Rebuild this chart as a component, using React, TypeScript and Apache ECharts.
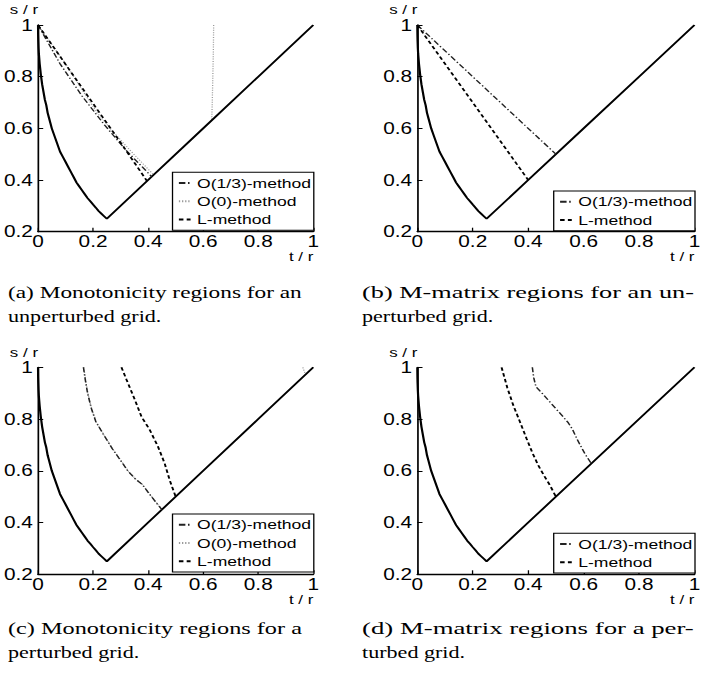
import React, { useEffect, useRef } from "react";
import * as echarts from "echarts";

// ---------- data ----------
const xTickValues = [0, 0.2, 0.4, 0.6, 0.8, 1];
const yTickValues = [0.2, 0.4, 0.6, 0.8, 1];
const methodNames = ["O(1/3)-method", "O(0)-method", "L-method"];
const axisNames = { x: "t / r", y: "s / r" };

// admissible-region boundary (same in all panels)
const boundaryCurve = [
  [0, 1], [0.0005, 0.96], [0.001, 0.94], [0.002, 0.91], [0.003, 0.89], [0.0045, 0.87],
  [0.006, 0.85], [0.008, 0.83], [0.01, 0.81], [0.015, 0.77], [0.02, 0.74], [0.025, 0.71],
  [0.03, 0.69], [0.035, 0.66], [0.04, 0.64], [0.045, 0.62], [0.05, 0.6], [0.06, 0.57],
  [0.07, 0.54], [0.08, 0.51], [0.09, 0.49], [0.1, 0.47], [0.11, 0.45], [0.12, 0.43],
  [0.13, 0.41], [0.14, 0.39], [0.15, 0.375], [0.16, 0.36], [0.17, 0.345], [0.18, 0.33],
  [0.19, 0.318], [0.2, 0.305], [0.21, 0.293], [0.22, 0.28], [0.23, 0.27], [0.24, 0.26],
  [0.25, 0.25], [0.4, 0.4], [0.6, 0.6], [0.8, 0.8], [1, 1],
];

// (a) monotonicity, unperturbed grid
const aO13 = [[0, 1], [0.04, 0.925], [0.08, 0.85], [0.16, 0.725], [0.24, 0.615], [0.32, 0.515], [0.413, 0.413]];
const aO0 = [[0, 1], [0.05, 0.925], [0.1, 0.85], [0.16, 0.75], [0.215, 0.66], [0.27, 0.59], [0.33, 0.52], [0.42, 0.42]];
const aO0Upper = [[0.638, 1], [0.637, 0.9], [0.635, 0.8], [0.633, 0.7], [0.631, 0.631]];
const aL = [[0, 1], [0.1, 0.848], [0.2, 0.696], [0.3, 0.545], [0.396, 0.396]];

// (b) M-matrix, unperturbed grid
const bO13 = [[0, 1], [0.5, 0.5]];
const bL = [[0, 1], [0.4, 0.4]];

// (c) monotonicity, perturbed grid
const cO13 = [[0.165, 1], [0.172, 0.95], [0.18, 0.9], [0.194, 0.84], [0.21, 0.79], [0.235, 0.745], [0.27, 0.685], [0.3, 0.64], [0.328, 0.597], [0.355, 0.567], [0.378, 0.548], [0.405, 0.51], [0.43, 0.476], [0.45, 0.45]];
const cO0 = [[0.166, 1], [0.173, 0.95], [0.181, 0.9], [0.195, 0.84], [0.211, 0.79], [0.236, 0.745], [0.271, 0.685], [0.301, 0.64], [0.329, 0.597], [0.356, 0.567], [0.379, 0.548], [0.406, 0.51], [0.431, 0.476], [0.451, 0.451]];
const cO0Corner = [[0.962, 1], [0.967, 0.985], [0.972, 0.972]];
const cL = [[0.303, 1], [0.322, 0.951], [0.352, 0.874], [0.376, 0.809], [0.406, 0.758], [0.436, 0.693], [0.46, 0.629], [0.478, 0.565], [0.5, 0.5]];

// (d) M-matrix, perturbed grid
const dO13 = [[0.415, 1], [0.42, 0.96], [0.428, 0.925], [0.45, 0.9], [0.475, 0.87], [0.5, 0.84], [0.525, 0.81], [0.545, 0.785], [0.56, 0.76], [0.575, 0.725], [0.59, 0.695], [0.605, 0.665], [0.628, 0.628]];
const dL = [[0.304, 1], [0.325, 0.92], [0.346, 0.854], [0.37, 0.79], [0.394, 0.725], [0.415, 0.67], [0.436, 0.622], [0.458, 0.58], [0.478, 0.545], [0.5, 0.5]];

const captionA = ["(a) Monotonicity regions for an", "unperturbed grid."];
const captionB = ["(b) M-matrix regions for an un-", "perturbed grid."];
const captionC = ["(c) Monotonicity regions for a", "perturbed grid."];
const captionD = ["(d) M-matrix regions for a per-", "turbed grid."];

// ---------- layout / style ----------
const STRETCH = 1.3; // the reference figure is stretched horizontally
const FULL_W = 708;
const FULL_H = 673;
const CHART_W = FULL_W / STRETCH;
const SANS = "'Liberation Sans', Arial, sans-serif";
const SERIF = "'Liberation Serif', 'Times New Roman', serif";
const CAP_FS = 17;

const styles: Record<string, any> = {
  boundary: { color: "#000", width: 1.7, type: "solid" },
  "O(1/3)-method": { color: "#222", width: 1.2, type: [5, 2, 1.2, 2] },
  "O(0)-method": { color: "#9a9a9a", width: 1, type: [1, 1.4] },
  "L-method": { color: "#000", width: 1.5, type: [3.5, 2.5] },
};

function measure(text: string, font: string) {
  const c = document.createElement("canvas").getContext("2d")!;
  c.font = font;
  return c.measureText(text).width;
}

export default function App() {
  const ref = useRef<HTMLDivElement>(null);

  useEffect(() => {
    if (!ref.current) return;
    const chart = echarts.init(ref.current, undefined, { renderer: "svg" });

    // reference-pixel geometry of the four panels
    const panels = [
      { x0: 35.67, x1: 313.3, y0: 25, y1: 231.7, lines: [["O(1/3)-method", aO13], ["O(0)-method", aO0], ["O(0)-method", aO0Upper], ["L-method", aL]], legend: [methodNames[0], methodNames[1], methodNames[2]], legTop: 172.3, cap: captionA, capX: [8, 302], capY: [292, 316] },
      { x0: 417.3, x1: 694.5, y0: 25, y1: 231.7, lines: [["O(1/3)-method", bO13], ["L-method", bL]], legend: [methodNames[0], methodNames[2]], legTop: 191, cap: captionB, capX: [362, 694], capY: [292, 316] },
      { x0: 35.67, x1: 313.3, y0: 367.3, y1: 574.3, lines: [["O(1/3)-method", cO13], ["O(0)-method", cO0], ["O(0)-method", cO0Corner], ["L-method", cL]], legend: [methodNames[0], methodNames[1], methodNames[2]], legTop: 514, cap: captionC, capX: [8, 302], capY: [628, 652] },
      { x0: 417.3, x1: 694.5, y0: 367.3, y1: 574.3, lines: [["O(1/3)-method", dO13], ["L-method", dL]], legend: [methodNames[0], methodNames[2]], legTop: 533.3, cap: captionD, capX: [362, 694], capY: [628, 652] },
    ];

    const grids: any[] = [];
    const xAxes: any[] = [];
    const yAxes: any[] = [];
    const legends: any[] = [];
    const series: any[] = [];
    const graphics: any[] = [];
    const capFont = `${CAP_FS}px ${SERIF}`;

    panels.forEach((p, i) => {
      grids.push({
        left: p.x0 / STRETCH,
        top: p.y0,
        width: (p.x1 - p.x0) / STRETCH,
        height: p.y1 - p.y0,
        containLabel: false,
      });
      const axisCommon = {
        type: "value",
        gridIndex: i,
        interval: 0.2,
        axisLine: { show: true, onZero: false, lineStyle: { color: "#000", width: 1.3 } },
        axisTick: { show: true, inside: true, length: 4, lineStyle: { color: "#000", width: 1 } },
        splitLine: { show: false },
      };
      xAxes.push({
        ...axisCommon,
        min: xTickValues[0],
        max: xTickValues[xTickValues.length - 1],
        axisLabel: { color: "#000", fontFamily: SANS, fontSize: 16, margin: 2 },
        name: axisNames.x,
        nameLocation: "end",
        nameGap: 0,
        nameTextStyle: { color: "#000", fontFamily: SANS, fontSize: 13, align: "right", verticalAlign: "top", padding: [18, 0, 0, 0] },
      });
      yAxes.push({
        ...axisCommon,
        min: yTickValues[0],
        max: yTickValues[yTickValues.length - 1],
        axisLabel: { color: "#000", fontFamily: SANS, fontSize: 16, margin: 4 },
        name: axisNames.y,
        nameLocation: "end",
        nameGap: 9,
        nameTextStyle: { color: "#000", fontFamily: SANS, fontSize: 13, align: "right", verticalAlign: "bottom", lineHeight: 13 },
      });
      series.push({
        type: "line",
        name: "boundary",
        xAxisIndex: i,
        yAxisIndex: i,
        data: boundaryCurve,
        symbol: "none",
        silent: true,
        z: 3,
        lineStyle: styles.boundary,
      });
      p.lines.forEach(([name, data]: any) => {
        series.push({
          type: "line",
          name,
          xAxisIndex: i,
          yAxisIndex: i,
          data,
          symbol: "none",
          silent: true,
          z: name === "O(0)-method" ? 2 : 4,
          lineStyle: styles[name],
        });
      });
      legends.push({
        orient: "vertical",
        right: (FULL_W - p.x1) / STRETCH,
        top: p.legTop,
        data: p.legend,
        itemWidth: 9,
        itemHeight: 14,
        itemGap: 4.3,
        padding: [3.7, 2, 3.7, 3.8],
        borderColor: "#000",
        borderWidth: 1,
        borderRadius: 0,
        backgroundColor: "#fff",
        selectedMode: false,
        itemStyle: { color: "rgba(0,0,0,0)", borderWidth: 0 },
        textStyle: { color: "#000", fontFamily: SANS, fontSize: 13.5 },
      });
      // captions: first line justified to the column width, second line ragged
      const left = p.capX[0] / STRETCH;
      const target = (p.capX[1] - p.capX[0]) / STRETCH;
      const natural = measure(p.cap[0], capFont);
      graphics.push({
        type: "text",
        x: left,
        y: p.capY[0],
        scaleX: target / natural,
        style: { text: p.cap[0], fontFamily: SERIF, fontSize: CAP_FS, fill: "#000", verticalAlign: "middle", align: "left" },
      });
      graphics.push({
        type: "text",
        x: left,
        y: p.capY[1],
        style: { text: p.cap[1], fontFamily: SERIF, fontSize: CAP_FS, fill: "#000", verticalAlign: "middle", align: "left" },
      });
    });

    chart.setOption({
      animation: false,
      backgroundColor: "#fff",
      textStyle: { fontFamily: SANS },
      grid: grids,
      xAxis: xAxes,
      yAxis: yAxes,
      legend: legends,
      series,
      graphic: { elements: graphics },
    });
    return () => chart.dispose();
  }, []);

  return (
    <div
      ref={ref}
      style={{
        position: "absolute",
        left: 0,
        top: 0,
        width: CHART_W,
        height: FULL_H,
        transform: `scaleX(${STRETCH})`,
        transformOrigin: "0 0",
        background: "#fff",
      }}
    />
  );
}
